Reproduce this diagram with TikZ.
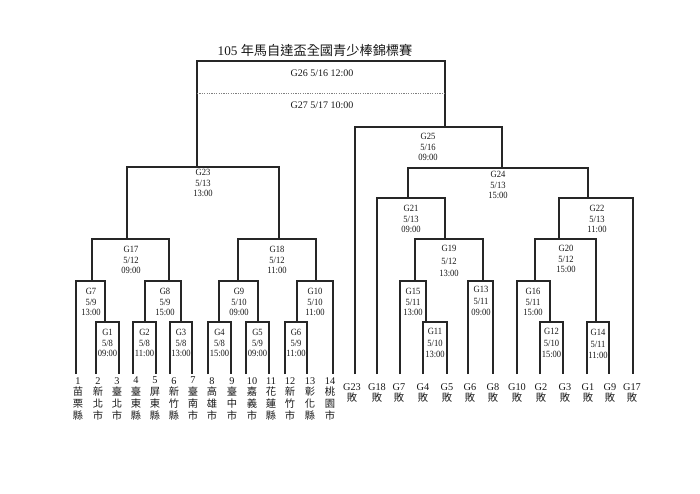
\documentclass[tikz,border=0pt]{standalone}
\usepackage{fontspec}
\setmainfont{Liberation Serif}
\newfontfamily\gmfont{Liberation Serif}[FakeStretch=0.9]
\newfontfamily\cjk{Noto Sans CJK TC}
\newcommand\bkt[5]{\draw[br] (#1,#4) |- (#2,#3) -- (#2,#5);}
\begin{document}
\begin{tikzpicture}[x=1pt,y=-1pt,
  br/.style={draw=black!85, line width=1.2pt},
  gm/.style={align=center, inner sep=0pt, text=black!90, font=\gmfont\fontsize{9.5}{10.4}\selectfont},
  gmw/.style={gm, font=\gmfont\fontsize{9.5}{11.2}\selectfont},
  gmx/.style={gm, font=\gmfont\fontsize{9.5}{12.2}\selectfont},
  team/.style={align=center, inner sep=0pt, anchor=north, text=black!90, font=\fontsize{10.3}{11.8}\selectfont},
  lost/.style={align=center, inner sep=0pt, anchor=north, text=black!90, font=\fontsize{10.3}{11.2}\selectfont},
]
\useasboundingbox (0,0) rectangle (700,494);
\fill[white] (0,0) rectangle (700,494);
% title
\node[inner sep=0pt, text=black!90, font=\fontsize{13.2}{13.2}\selectfont] (title) at (315,51) {105 {\cjk 年馬自達盃全國青少棒錦標賽}};
% final box
\bkt{197}{445}{61}{167}{127}
\draw[gray, line width=0.7pt, dash pattern=on 1.2pt off 1.2pt] (197,93) coordinate (dl) -- (445,93) coordinate (dr);
\node[inner sep=0pt, text=black!90, font=\fontsize{10}{10}\selectfont] (g26) at (322,73) {G26 5/16 12:00};
\node[inner sep=0pt, text=black!90, font=\fontsize{10}{10}\selectfont] (g27) at (322,105) {G27 5/17 10:00};
% left brackets
\bkt{96}{119}{322}{374}{374}
\bkt{133}{156}{322}{374}{374}
\bkt{170}{192}{322}{374}{374}
\bkt{208}{231}{322}{374}{374}
\bkt{246}{269}{322}{374}{374}
\bkt{285}{307}{322}{374}{374}
\bkt{76}{105}{281}{374}{322}
\bkt{145}{181}{281}{322}{322}
\bkt{219}{258}{281}{322}{322}
\bkt{297}{333}{281}{322}{374}
\bkt{92}{169}{239}{281}{281}
\bkt{238}{316}{239}{281}{281}
\bkt{127}{279}{167}{239}{239}
% right brackets
\bkt{355}{502}{127}{374}{168}
\bkt{408}{588}{168}{198}{198}
\bkt{377}{445}{198}{374}{239}
\bkt{559}{633}{198}{239}{374}
\bkt{415}{483}{239}{281}{281}
\bkt{535}{596}{239}{281}{322}
\bkt{400}{426}{281}{374}{322}
\bkt{468}{493}{281}{374}{374}
\bkt{517}{550}{281}{374}{322}
\bkt{423}{447}{322}{374}{374}
\bkt{540}{563}{322}{374}{374}
\bkt{587}{609}{322}{374}{374}
% game labels left
\node[gm] (g1) at (107.5,343) {G1\\5/8\\09:00};
\node[gm] (g2) at (144.5,343) {G2\\5/8\\11:00};
\node[gm] (g3) at (181,343) {G3\\5/8\\13:00};
\node[gm] (g4) at (219.5,343) {G4\\5/8\\15:00};
\node[gm] (g5) at (257.5,343) {G5\\5/9\\09:00};
\node[gm] (g6) at (296,343) {G6\\5/9\\11:00};
\node[gm] (g7) at (91,302) {G7\\5/9\\13:00};
\node[gm] (g8) at (165,302) {G8\\5/9\\15:00};
\node[gm] (g9) at (239,302) {G9\\5/10\\09:00};
\node[gm] (g10) at (315,302) {G10\\5/10\\11:00};
\node[gm] (g17) at (131,260) {G17\\5/12\\09:00};
\node[gm] (g18) at (277,260) {G18\\5/12\\11:00};
\node[gm] (g23) at (203,183) {G23\\5/13\\13:00};
% game labels right
\node[gm] (g25) at (428,147) {G25\\5/16\\09:00};
\node[gm] (g24) at (498,185) {G24\\5/13\\15:00};
\node[gm] (g21) at (411,219) {G21\\5/13\\09:00};
\node[gm] (g22) at (597,219) {G22\\5/13\\11:00};
\node[gmx] (g19) at (449,261) {G19\\5/12\\13:00};
\node[gm] (g20) at (566,259) {G20\\5/12\\15:00};
\node[gm] (g15) at (413,302) {G15\\5/11\\13:00};
\node[gmw] (g13) at (481,301) {G13\\5/11\\09:00};
\node[gm] (g16) at (533,302) {G16\\5/11\\15:00};
\node[gmw] (g11) at (435,343) {G11\\5/10\\13:00};
\node[gmw] (g12) at (551.5,343) {G12\\5/10\\15:00};
\node[gmw] (g14) at (598,344) {G14\\5/11\\11:00};
% teams
\node[team] (t1) at (78,377) {1\\{\cjk 苗}\\{\cjk 栗}\\{\cjk 縣}};
\node[team] (t2) at (98,377) {2\\{\cjk 新}\\{\cjk 北}\\{\cjk 市}};
\node[team] (t3) at (117,377) {3\\{\cjk 臺}\\{\cjk 北}\\{\cjk 市}};
\node[team] (t4) at (136,377) {4\\{\cjk 臺}\\{\cjk 東}\\{\cjk 縣}};
\node[team] (t5) at (155,377) {5\\{\cjk 屏}\\{\cjk 東}\\{\cjk 縣}};
\node[team] (t6) at (174,377) {6\\{\cjk 新}\\{\cjk 竹}\\{\cjk 縣}};
\node[team] (t7) at (193,377) {7\\{\cjk 臺}\\{\cjk 南}\\{\cjk 市}};
\node[team] (t8) at (212,377) {8\\{\cjk 高}\\{\cjk 雄}\\{\cjk 市}};
\node[team] (t9) at (232,377) {9\\{\cjk 臺}\\{\cjk 中}\\{\cjk 市}};
\node[team] (t10) at (252,377) {10\\{\cjk 嘉}\\{\cjk 義}\\{\cjk 市}};
\node[team] (t11) at (271,377) {11\\{\cjk 花}\\{\cjk 蓮}\\{\cjk 縣}};
\node[team] (t12) at (290,377) {12\\{\cjk 新}\\{\cjk 竹}\\{\cjk 市}};
\node[team] (t13) at (310,377) {13\\{\cjk 彰}\\{\cjk 化}\\{\cjk 縣}};
\node[team] (t14) at (330,377) {14\\{\cjk 桃}\\{\cjk 園}\\{\cjk 市}};
% losers
\node[lost] (l1) at (352,383.5) {G23\\{\cjk 敗}};
\node[lost] (l2) at (377,383.5) {G18\\{\cjk 敗}};
\node[lost] (l3) at (399,383.5) {G7\\{\cjk 敗}};
\node[lost] (l4) at (423,383.5) {G4\\{\cjk 敗}};
\node[lost] (l5) at (447,383.5) {G5\\{\cjk 敗}};
\node[lost] (l6) at (470,383.5) {G6\\{\cjk 敗}};
\node[lost] (l7) at (493,383.5) {G8\\{\cjk 敗}};
\node[lost] (l8) at (517,383.5) {G10\\{\cjk 敗}};
\node[lost] (l9) at (541,383.5) {G2\\{\cjk 敗}};
\node[lost] (l10) at (565,383.5) {G3\\{\cjk 敗}};
\node[lost] (l11) at (588,383.5) {G1\\{\cjk 敗}};
\node[lost] (l12) at (610,383.5) {G9\\{\cjk 敗}};
\node[lost] (l13) at (632,383.5) {G17\\{\cjk 敗}};
\end{tikzpicture}
\end{document}
